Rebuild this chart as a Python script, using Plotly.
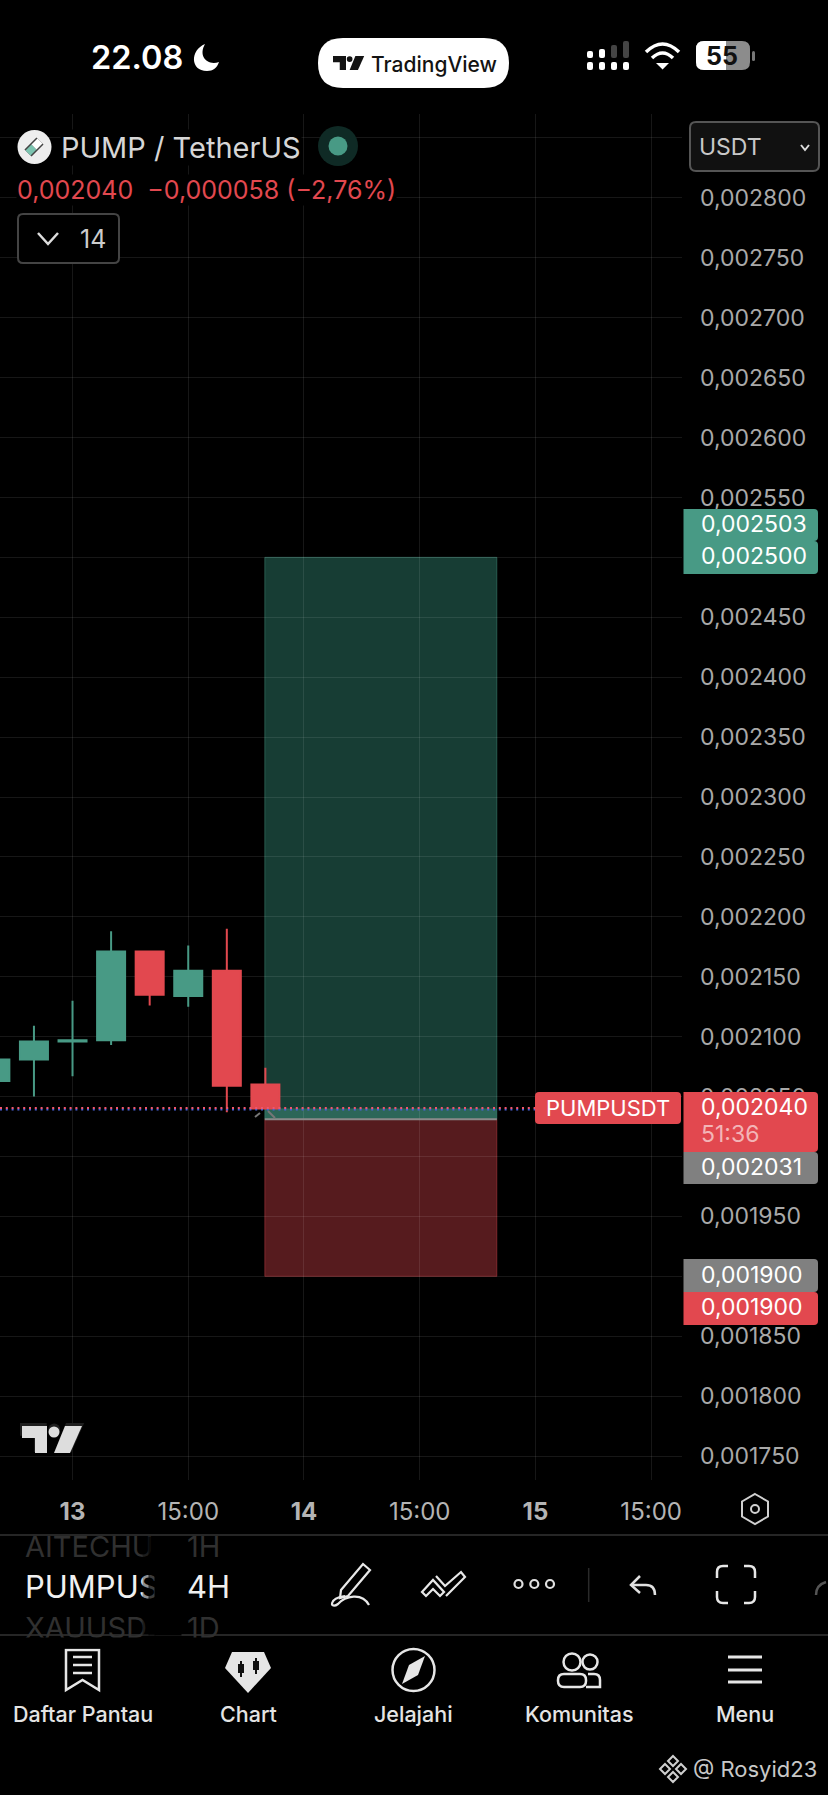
import plotly.graph_objects as go

# Candles (x = bar number, 0 is the bar under the "13" tick)
bars = [-2, -1, 0, 1, 2, 3, 4, 5]
opens = [0.002063, 0.002081, 0.002096, 0.002097, 0.002171, 0.002134, 0.002155, 0.002060]
highs = [0.002081, 0.002109, 0.002130, 0.002188, 0.002171, 0.002176, 0.002190, 0.002074]
lows = [0.002063, 0.002050, 0.002067, 0.002093, 0.002126, 0.002125, 0.002037, 0.002040]
closes = [0.002081, 0.002096, 0.002097, 0.002171, 0.002135, 0.002155, 0.002059, 0.002040]

# Long position tool
pos_start = 4.985
pos_end = 11.0
take_profit = 0.002500
entry = 0.002031
stop_loss = 0.001900
last_price = 0.002040

# Axes
time_ticks = [0, 3, 6, 9, 12, 15]
time_labels = ["<b>13</b>", "15:00", "<b>14</b>", "15:00", "<b>15</b>", "15:00"]

W, H = 828, 1795
GREEN = "#489a85"
RED = "#e2484f"
GRID = "rgba(255,255,255,0.09)"
FONT = "Inter"

fig = go.Figure()

fig.add_trace(go.Candlestick(
    x=bars, open=opens, high=highs, low=lows, close=closes,
    increasing=dict(line=dict(color=GREEN, width=2), fillcolor=GREEN),
    decreasing=dict(line=dict(color=RED, width=2), fillcolor=RED),
    hoverinfo="skip", showlegend=False,
))

# Zones of the position tool, under the candles
fig.add_shape(type="rect", xref="x", yref="y", x0=pos_start, x1=pos_end, y0=entry, y1=take_profit,
              fillcolor="rgba(60,160,137,0.38)", line=dict(color="rgba(72,154,133,0.45)", width=1), layer="below")
fig.add_shape(type="rect", xref="x", yref="y", x0=pos_start, x1=pos_end, y0=stop_loss, y1=entry,
              fillcolor="rgba(226,72,79,0.38)", line=dict(color="rgba(226,72,79,0.4)", width=1), layer="below")
fig.add_shape(type="rect", xref="x", yref="y", x0=pos_start, x1=pos_end, y0=entry, y1=last_price,
              fillcolor="rgba(72,154,133,0.45)", line=dict(width=0), layer="below")
fig.add_shape(type="line", xref="x", yref="y", x0=pos_start, x1=pos_end, y0=entry, y1=entry,
              line=dict(color="#8a8a8a", width=2))
# Last price line, red dots with blue under them
fig.add_shape(type="line", xref="paper", yref="y", x0=0, x1=535 / W, y0=last_price - 0.0000008, y1=last_price - 0.0000008,
              line=dict(color="#4a63d8", width=2, dash="2px,3.8px"))
fig.add_shape(type="line", xref="paper", yref="y", x0=0, x1=535 / W, y0=last_price + 0.0000004, y1=last_price + 0.0000004,
              line=dict(color="#f0566e", width=2, dash="2px,3.8px"))


# Everything around the chart is drawn on a second, hidden axis pair that counts in pixels
def stroke(d, color="#e6e6e6", width=2.5, fill=None):
    fig.add_shape(type="path", xref="x2", yref="y2", path=d, fillcolor=fill,
                  line=dict(color=color, width=width))


def solid(d, color):
    fig.add_shape(type="path", xref="x2", yref="y2", path=d, fillcolor=color, line=dict(width=0))


def circle(cx, cy, r, color="#e6e6e6", width=2.5, fill=None):
    fig.add_shape(type="circle", xref="x2", yref="y2", x0=cx - r, x1=cx + r, y0=cy - r, y1=cy + r,
                  fillcolor=fill, line=dict(color=color, width=width))


def rounded(x0, y0, x1, y1, r, fill, color=None, width=0, corners=(1, 1, 1, 1)):
    tl, tr, br, bl = [r * c for c in corners]
    d = (f"M {x0 + tl} {y0} L {x1 - tr} {y0} Q {x1} {y0} {x1} {y0 + tr} L {x1} {y1 - br} Q {x1} {y1} {x1 - br} {y1} "
         f"L {x0 + bl} {y1} Q {x0} {y1} {x0} {y1 - bl} L {x0} {y0 + tl} Q {x0} {y0} {x0 + tl} {y0} Z")
    fig.add_shape(type="path", xref="x2", yref="y2", path=d, fillcolor=fill,
                  line=dict(color=color or "rgba(0,0,0,0)", width=width))


def text(x, y, s, size=23, color="#ffffff", anchor="left", weight=400, bg=None):
    fig.add_annotation(xref="x2", yref="y2", x=x, y=y, text=s, showarrow=False, xanchor=anchor, yanchor="middle",
                       font=dict(family=FONT, size=size, color=color, weight=weight), borderpad=0,
                       bgcolor=bg)


def mask(x, y, w, h, color="#000000"):
    fig.add_annotation(xref="x2", yref="y2", x=x, y=y, text=" ", showarrow=False, xanchor="left", yanchor="top",
                       width=w, height=h, bgcolor=color, borderpad=0, font=dict(size=1))


def tv_logo(x, y, s, color):
    solid(f"M {x} {y} L {x + 25 * s} {y} L {x + 25 * s} {y + 27 * s} L {x + 13 * s} {y + 27 * s} "
          f"L {x + 13 * s} {y + 12 * s} L {x} {y + 12 * s} Z", color)
    circle(x + 32 * s, y + 6 * s, 5.5 * s, color=color, width=0, fill=color)
    solid(f"M {x + 43 * s} {y} L {x + 60 * s} {y} L {x + 48 * s} {y + 27 * s} L {x + 32 * s} {y + 27 * s} Z", color)


# Status bar
text(90, 57, "22.08", size=32.5, weight=600)
solid("M 205 44 C 190 50 190 71 207 71 C 213 71 217 68 219 62 C 207 66 198 56 205 44 Z", "#ffffff")
rounded(318, 38, 509, 88, 25, "#ffffff")
tv_logo(333, 56, 0.52, "#131313")
text(370, 64, "TradingView", size=21, color="#131313", weight=500)
for sx, top, col in [(590, 51, "#ffffff"), (602, 49, "#ffffff"), (614, 45, "#444444"), (626, 41, "#444444")]:
    rounded(sx - 3, top, sx + 3, 58, 2, col)
    rounded(sx - 3, 62, sx + 3, 70, 2, "#ffffff")
stroke("M 646 52 Q 662.6 36 679 52", color="#ffffff", width=3.5)
stroke("M 652 58 Q 662.6 48 673 58", color="#ffffff", width=3.5)
solid("M 656 63 L 669 63 L 662.6 69.5 Z", "#ffffff")
rounded(696, 41, 750, 70, 8, "#8c8c8c")
rounded(696, 41, 726, 70, 8, "#ffffff", corners=(1, 0, 0, 1))
rounded(752, 51, 755, 61, 1.5, "#777777")
text(722, 56, "55", size=25, color="#111111", anchor="center", weight=700)

# Legend
circle(34.5, 147, 17, color="#eeeeee", width=0, fill="#eeeeee")
stroke("M 28 153 L 40 141", color="#444444", width=10)
stroke("M 28 153 L 34 147", color="#7cc4b0", width=7)
stroke("M 34 147 L 40 141", color="#ffffff", width=7)
circle(338, 146, 20, color="#0f2a25", width=0, fill="#0f2a25")
circle(338, 146, 9.5, color=GREEN, width=0, fill=GREEN)
text(60, 147, "PUMP / TetherUS", size=29, color="#d6d6d6", bg="#000000")
text(16, 190, "0,002040&nbsp;&nbsp;−0,000058 (−2,76%)", size=25, color=RED, bg="#000000")
rounded(18, 214, 119, 263, 5, "#000000", color="#444444", width=2)
stroke("M 38 233 L 48 244 L 58 233", color="#dddddd", width=2.5)
text(79, 239, "14", size=25, color="#cccccc")

# Currency box
rounded(690, 122, 819, 171, 6, "#111111", color="#555555", width=2)
text(698, 147, "USDT", size=23, color="#c8c8c8")
stroke("M 801 145 L 805 150 L 809 145", color="#dddddd", width=2)

# Price tags on the axis
rounded(535, 1092, 681, 1124, 4, RED)
text(608, 1108, "PUMPUSDT", size=22, anchor="center")
rounded(683.5, 509, 818, 541, 4, GREEN, corners=(0, 1, 1, 0))
rounded(683.5, 541, 818, 574, 4, GREEN, corners=(0, 1, 1, 0))
text(700, 524, "0,002503")
text(700, 556, "0,002500")
rounded(683.5, 1092, 818, 1152, 4, RED, corners=(0, 1, 1, 0))
text(700, 1107, "0,002040")
text(700, 1134, "51:36", color="#f3b5b7")
rounded(683.5, 1152, 818, 1184, 4, "#808080", corners=(0, 1, 1, 0))
text(700, 1167, "0,002031")
rounded(683.5, 1259, 818, 1292, 4, "#808080", corners=(0, 1, 1, 0))
text(700, 1275, "0,001900")
rounded(683.5, 1292, 818, 1325, 4, RED, corners=(0, 1, 1, 0))
text(700, 1307, "0,001900")

# Small handles at the start of the position tool
stroke("M 255 1117 L 260 1113", color="#777777", width=2)
stroke("M 268 1111 L 275 1118", color="#777777", width=2)

# Watermark logo
tv_logo(20, 1423, 1.07, "#1e1e1e")
tv_logo(22, 1426, 1.0, "#dddddd")

# Chart settings hexagon
stroke("M 755 1494 L 768 1501.5 L 768 1516.5 L 755 1524 L 742 1516.5 L 742 1501.5 Z", color="#d0d0d0", width=2)
circle(755, 1509, 4, color="#d0d0d0", width=2)

# Toolbar
fig.add_shape(type="line", xref="x2", yref="y2", x0=0, x1=W, y0=1535, y1=1535, line=dict(color="#333333", width=1.5))
fig.add_shape(type="line", xref="x2", yref="y2", x0=0, x1=W, y0=1635, y1=1635, line=dict(color="#333333", width=1.5))
text(24, 1546, "AITECHU", size=29, color="#303030")
text(186, 1546, "1H", size=29, color="#303030")
text(24, 1627, "XAUUSD", size=29, color="#303030")
text(186, 1627, "1D", size=29, color="#303030")
text(24, 1586, "PUMPUS", size=31, color="#f0f0f0")
text(186, 1586, "4H", size=31, color="#f0f0f0")
mask(154, 1536, 26, 98)
mask(148, 1536, 6, 98, "rgba(0,0,0,0.75)")
mask(142, 1536, 6, 98, "rgba(0,0,0,0.4)")
mask(0, 1636.5, 300, 10)

stroke("M 341 1590 L 363 1564 L 370 1570 L 348 1596 L 340 1598 Z", color="#e8e8e8", width=2.2)
stroke("M 345 1596 C 328 1598 330 1610 338 1604 C 345 1596 362 1592 369 1605", color="#e8e8e8", width=2.2)
stroke("M 422 1592 L 433 1580 L 444 1592 L 440 1596 L 433 1589 L 426 1596 Z", color="#e8e8e8", width=2.2)
stroke("M 436 1576 L 445 1586 L 461 1572 L 465 1577 L 446 1596", color="#e8e8e8", width=2.2)
for dx in [518.5, 534.3, 550]:
    circle(dx, 1584, 4, color="#e0e0e0", width=2.2)
fig.add_shape(type="line", xref="x2", yref="y2", x0=588.7, x1=588.7, y0=1568, y1=1602, line=dict(color="#2a2a2a", width=1.5))
stroke("M 640 1576 L 631 1585 L 640 1593", color="#e0e0e0", width=2.5)
stroke("M 631 1585 L 646 1585 C 652 1585 655 1589 655 1595", color="#e0e0e0", width=2.5)
stroke("M 717 1578 L 717 1572 Q 717 1566 723 1566 L 728 1566", color="#e6e6e6", width=2.5)
stroke("M 744 1566 L 749 1566 Q 755 1566 755 1572 L 755 1578", color="#e6e6e6", width=2.5)
stroke("M 717 1591 L 717 1597 Q 717 1603 723 1603 L 728 1603", color="#e6e6e6", width=2.5)
stroke("M 744 1603 L 749 1603 Q 755 1603 755 1597 L 755 1591", color="#e6e6e6", width=2.5)
stroke("M 816 1595 Q 816 1585 826 1582", color="#555555", width=2.5)

# Bottom navigation
text(83, 1714, "Daftar Pantau", size=21.5, color="#e4e4e4", anchor="center", weight=500)
text(248, 1714, "Chart", size=21.5, color="#e4e4e4", anchor="center", weight=500)
text(413.5, 1714, "Jelajahi", size=21.5, color="#e4e4e4", anchor="center", weight=500)
text(579, 1714, "Komunitas", size=21.5, color="#e4e4e4", anchor="center", weight=500)
text(744.5, 1714, "Menu", size=21.5, color="#e4e4e4", anchor="center", weight=500)

stroke("M 66 1650 L 99 1650 L 99 1690 L 82.5 1680 L 66 1690 Z", color="#e6e6e6", width=2.5)
for ly in [1657, 1665, 1673]:
    stroke(f"M 73 {ly} L 92 {ly}", color="#e6e6e6", width=2.5)

solid("M 232 1652 L 264 1652 L 271 1668 L 248 1693 L 225 1668 Z", "#e6e6e6")
solid("M 240 1661 L 242 1661 L 242 1664 L 244 1664 L 244 1673 L 242 1673 L 242 1677 L 240 1677 L 240 1673 "
      "L 238 1673 L 238 1664 L 240 1664 Z", "#111111")
solid("M 255 1658 L 257 1658 L 257 1661 L 259 1661 L 259 1670 L 257 1670 L 257 1674 L 255 1674 L 255 1670 "
      "L 253 1670 L 253 1661 L 255 1661 Z", "#111111")

circle(413.5, 1670, 21, color="#e6e6e6", width=2.5)
solid("M 425 1656 L 418 1675 L 402 1684 L 409 1665 Z", "#e6e6e6")

circle(572, 1662, 8.5, color="#e6e6e6", width=2.5)
circle(590, 1662, 7.5, color="#e6e6e6", width=2.5)
rounded(558, 1674, 586, 1687, 6, "#000000", color="#e6e6e6", width=2.5)
stroke("M 588 1674 L 594 1674 Q 600 1674 600 1680 L 600 1687 L 586 1687", color="#e6e6e6", width=2.5)

for ly in [1657, 1670, 1682]:
    stroke(f"M 728 {ly} L 762 {ly}", color="#e6e6e6", width=3)

# Binance watermark
for cx, cy in [(673, 1761), (665, 1769), (681, 1769), (673, 1777)]:
    stroke(f"M {cx} {cy - 5} L {cx + 5} {cy} L {cx} {cy + 5} L {cx - 5} {cy} Z", color="#cfcfcf", width=2)
text(692, 1769, "@ Rosyid23", size=22, color="#c8c8c8")

fig.update_layout(
    width=W, height=H,
    margin=dict(l=0, r=0, t=0, b=0),
    paper_bgcolor="#000000", plot_bgcolor="rgba(0,0,0,0)",
    separators=",.",
    boxgap=0.274,
    boxgroupgap=0,
    showlegend=False,
    hovermode=False,
    font=dict(family=FONT, color="#a9a9a9"),
    xaxis=dict(
        domain=[0, 682 / W], range=[-1.88, 15.8], anchor="y",
        tickmode="array", tickvals=time_ticks, ticktext=time_labels,
        tickfont=dict(size=24, color="#b4b4b4"), ticks="", ticklabelstandoff=15,
        showgrid=True, gridcolor=GRID, gridwidth=1, zeroline=False, showline=False,
        rangeslider=dict(visible=False), fixedrange=True,
    ),
    yaxis=dict(
        domain=[1 - 1480 / H, 1 - 114 / H], range=[0.00173, 0.00287], anchor="x", side="right",
        tick0=0.0017, dtick=0.00005, tickformat=".6f",
        tickfont=dict(size=23, color="#a9a9a9"), ticks="", ticklabelstandoff=17,
        showgrid=True, gridcolor=GRID, gridwidth=1, zeroline=False, showline=False, fixedrange=True,
    ),
    xaxis2=dict(domain=[0, 1], range=[0, W], anchor="y2", visible=False, fixedrange=True),
    yaxis2=dict(domain=[0, 1], range=[H, 0], anchor="x2", visible=False, fixedrange=True),
)

fig.write_html("out.html", config={"displayModeBar": False},
               post_script="document.body.style.margin='0';")
